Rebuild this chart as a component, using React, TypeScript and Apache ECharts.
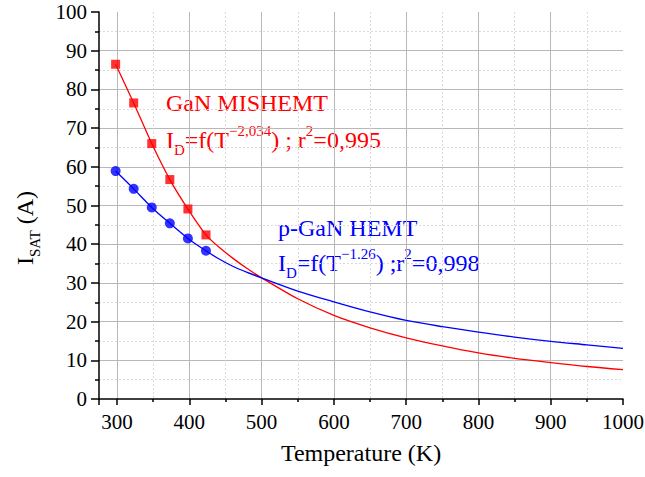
import React, { useEffect, useRef } from "react";
import * as echarts from "echarts";

const tempMeasured = [298, 323, 348, 373, 398, 423];
const misHemtMeasured = [86.5, 76.5, 66.0, 56.7, 49.1, 42.4];
const pGanMeasured = [58.9, 54.3, 49.5, 45.4, 41.5, 38.3];

const tempFit = [298, 323, 348, 373, 398, 423, 440, 460, 480, 500, 550, 600, 650, 700, 750, 800, 850, 900, 950, 1000];
const misHemtFit = [86.5, 76.5, 66.0, 56.7, 49.1, 42.4, 39.4, 36.4, 33.7, 31.3, 25.9, 21.6, 18.4, 15.8, 13.7, 11.9, 10.5, 9.4, 8.4, 7.6];
const pGanFit = [58.9, 54.3, 49.5, 45.4, 41.5, 38.3, 36.3, 34.3, 32.7, 31.3, 27.9, 25.1, 22.5, 20.3, 18.7, 17.3, 16.0, 14.9, 14.0, 13.1];

const FONT = "Liberation Serif";
const RED = "#ff0000";
const BLUE = "#0000ff";

function pairs(xs: number[], ys: number[]) {
  return xs.map((x, i) => [x, ys[i]]);
}

function richStyles(color: string) {
  return {
    m: { fontSize: 24, lineHeight: 34, fontFamily: FONT, fill: color, color, verticalAlign: "middle" },
    sup: { fontSize: 15, lineHeight: 21, fontFamily: FONT, fill: color, color, verticalAlign: "top" },
    sub: { fontSize: 15, lineHeight: 15, fontFamily: FONT, fill: color, color, verticalAlign: "bottom" },
  };
}

export default function App() {
  const ref = useRef<HTMLDivElement>(null);
  useEffect(() => {
    if (!ref.current) return;
    const chart = echarts.init(ref.current, null, { renderer: "svg" });
    const axisLine = { show: true, lineStyle: { color: "#000", width: 1.5 } };
    const labelStyle = { fontFamily: FONT, fontSize: 21, color: "#000", margin: 12 };
    chart.setOption({
      animation: false,
      backgroundColor: "#fff",
      textStyle: { fontFamily: FONT },
      grid: { left: 99, right: 22, top: 12, bottom: 78, containLabel: false, outerBoundsMode: "none" },
      xAxis: {
        type: "value",
        min: 275,
        max: 1000,
        splitNumber: 7,
        name: "Temperature (K)",
        nameLocation: "middle",
        nameGap: 42,
        nameTextStyle: { fontFamily: FONT, fontSize: 24, color: "#000" },
        axisLine,
        axisTick: { show: true, inside: false, length: 6, lineStyle: { color: "#000", width: 1.5 } },
        minorTick: { show: true, splitNumber: 2, length: 3, lineStyle: { color: "#000", width: 1.5 } },
        axisLabel: { ...labelStyle, showMinLabel: false, formatter: (v: number) => String(v) },
        splitLine: { show: true, showMinLine: false, showMaxLine: false, lineStyle: { color: "#b8b8b8", width: 1 } },
        minorSplitLine: { show: true, lineStyle: { color: "#dadada", width: 1, type: [2, 2] } },
      },
      yAxis: {
        type: "value",
        min: 0,
        max: 100,
        interval: 10,
        axisLine,
        axisTick: { show: true, inside: false, length: 8, lineStyle: { color: "#000", width: 1.5 } },
        minorTick: { show: true, splitNumber: 2, length: 4, lineStyle: { color: "#000", width: 1.5 } },
        axisLabel: { ...labelStyle, formatter: (v: number) => String(v) },
        splitLine: { show: true, showMinLine: false, showMaxLine: false, lineStyle: { color: "#b8b8b8", width: 1 } },
        minorSplitLine: { show: true, lineStyle: { color: "#dadada", width: 1, type: [2, 2] } },
      },
      graphic: [
        {
          type: "text",
          x: 25,
          y: 228,
          rotation: Math.PI / 2,
          style: {
            text: "{m|I}{sub|SAT}{m| (A)}",
            align: "center",
            verticalAlign: "middle",
            rich: richStyles("#000"),
          },
        },
        {
          type: "text",
          x: 166,
          y: 86,
          style: { text: "{m|GaN MISHEMT}", rich: richStyles(RED) },
        },
        {
          type: "text",
          x: 166,
          y: 123,
          style: {
            text: "{m|I}{sub|D}{m|=f(T}{sup|−2,034}{m|) ; r}{sup|2}{m|=0,995}",
            rich: richStyles(RED),
          },
        },
        {
          type: "text",
          x: 278,
          y: 211,
          style: { text: "{m|p-GaN HEMT}", rich: richStyles(BLUE) },
        },
        {
          type: "text",
          x: 278,
          y: 246,
          style: {
            text: "{m|I}{sub|D}{m|=f(T}{sup|−1.26}{m|) ;r}{sup|2}{m|=0,998}",
            rich: richStyles(BLUE),
          },
        },
      ],
      series: [
        {
          type: "line",
          data: pairs(tempFit, misHemtFit),
          smooth: 0.3,
          showSymbol: false,
          lineStyle: { color: RED, width: 1.3 },
          z: 2,
        },
        {
          type: "line",
          data: pairs(tempFit, pGanFit),
          smooth: 0.3,
          showSymbol: false,
          lineStyle: { color: BLUE, width: 1.3 },
          z: 2,
        },
        {
          type: "scatter",
          data: pairs(tempMeasured, misHemtMeasured),
          symbol: "rect",
          symbolSize: 9,
          itemStyle: { color: RED },
          z: 3,
        },
        {
          type: "scatter",
          data: pairs(tempMeasured, pGanMeasured),
          symbol: "circle",
          symbolSize: 10,
          itemStyle: { color: BLUE },
          z: 3,
        },
      ],
    });
    return () => chart.dispose();
  }, []);
  return (
    <div
      ref={ref}
      style={{ position: "fixed", left: 0, top: 0, width: 645, height: 477 }}
    />
  );
}
